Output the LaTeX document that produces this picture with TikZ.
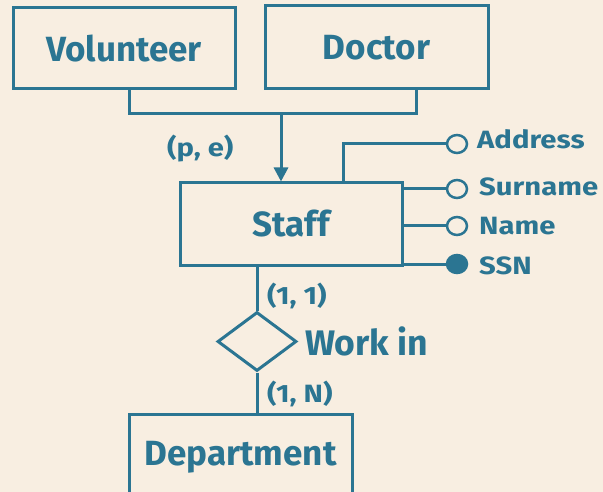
\documentclass[tikz,border=0pt]{standalone}
\usepackage{fontspec}
\setmainfont{Fira Sans}
\newfontfamily\smallfont[FakeStretch=1.17]{Fira Sans}
\usetikzlibrary{arrows.meta,shapes.geometric}
\definecolor{erblue}{HTML}{2B7592}
\definecolor{bgc}{HTML}{F8EEE1}
\begin{document}
\begin{tikzpicture}[x=1pt,y=-1pt,
  every node/.style={text=erblue},
  entity/.style={draw=erblue,line width=3pt,rectangle,inner sep=0pt,font=\fontsize{35}{40}\selectfont\bfseries},
  relship/.style={draw=erblue,line width=3pt,diamond,inner sep=0pt,minimum width=79pt,minimum height=59pt},
  attr/.style={draw=erblue,line width=2.5pt,ellipse,inner sep=0pt,minimum width=20pt,minimum height=18pt,fill=bgc},
  keyattr/.style={attr,fill=erblue},
  lbl/.style={anchor=base west,inner sep=0pt,font=\smallfont\fontsize{25}{30}\selectfont\bfseries},
  conn/.style={draw=erblue,line width=3pt}]
\useasboundingbox[fill=bgc] (0,0) rectangle (603,492);
\node[entity,minimum width=222pt,minimum height=81pt] (vol) at (124,48.5) {Volunteer};
\node[entity,minimum width=223pt,minimum height=83pt] (doc) at (376.5,47.5) {Doctor};
\node[entity,minimum width=222pt,minimum height=82pt] (staff) at (291,224) {Staff};
\node[entity,minimum width=223pt,minimum height=86pt] (dep) at (240.5,457) {Department};
\node[relship] (work) at (257,341.5) {};
\coordinate (j) at (281,114);
\draw[conn] ([xshift=5pt]vol.south) |- (j);
\draw[conn] ([xshift=40pt]doc.south) |- (j);
\draw[conn,-{Triangle[length=14pt,width=14pt]}] (j) -- (j |- staff.north);
\node[attr] (aaddr) at (457,144) {};
\node[attr] (asur) at (457,189) {};
\node[attr] (aname) at (457,226) {};
\node[keyattr] (assn) at (457,264) {};
\draw[conn] ([xshift=52pt]staff.north) |- (aaddr);
\draw[conn] (staff.east |- asur) -- (asur);
\draw[conn] (staff.east |- aname) -- (aname);
\draw[conn] (staff.east |- assn) -- (assn);
\draw[conn] (staff.south -| work.north) -- (work.north);
\draw[conn] (work.south) -- (work.south |- dep.north);
\node[lbl] (laddr) at (477,149) {Address};
\node[lbl] (lsur) at (479,196) {Surname};
\node[lbl] (lname) at (479,235) {Name};
\node[lbl] (lssn) at (479,274) {SSN};
\node[lbl] (lpe) at (167,157) {(p, e)};
\node[lbl] (l11) at (267,304) {(1, 1)};
\node[lbl] (l1n) at (267,402) {(1, N)};
\node[lbl,font=\fontsize{35.5}{40}\selectfont\bfseries] (lwork) at (305,355) {Work in};
\end{tikzpicture}
\end{document}
